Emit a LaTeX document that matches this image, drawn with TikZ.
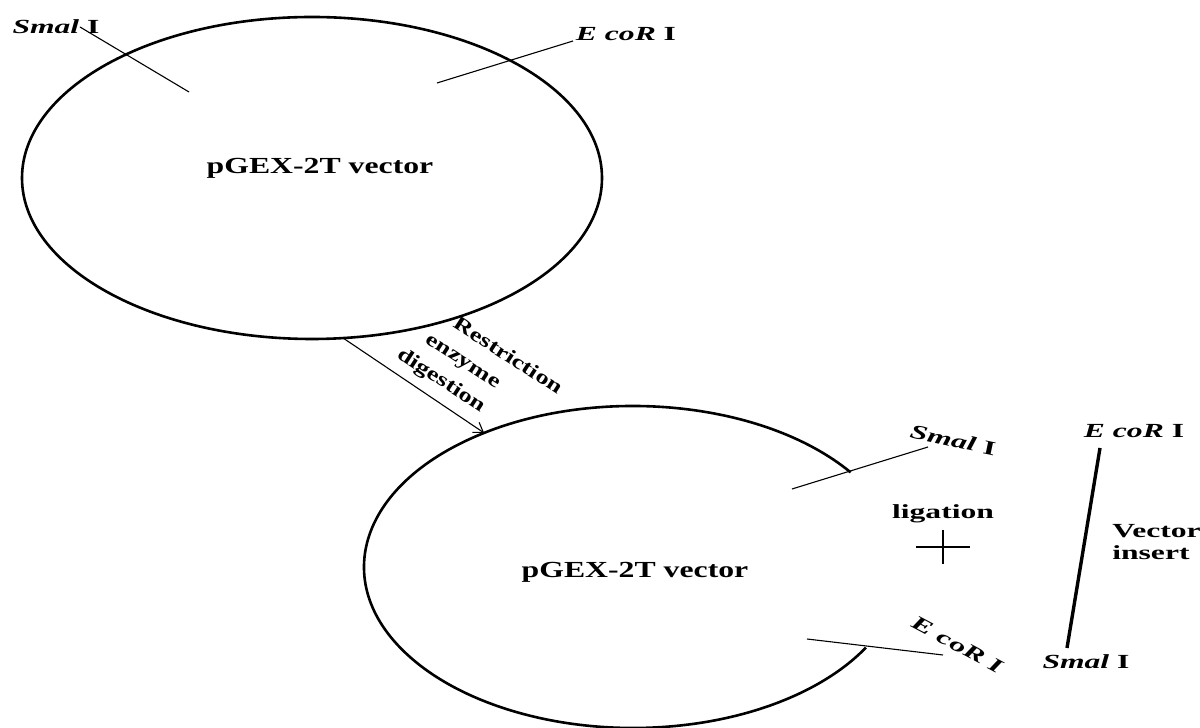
\documentclass[tikz,border=0pt]{standalone}
\usepackage{fontspec}
\setmainfont{Liberation Serif}
\usetikzlibrary{arrows.meta, shapes, positioning, calc}
\tikzset{
  plasmid/.style={ellipse, draw=black, line width=2.6pt, inner sep=0pt, outer sep=0pt},
  openplasmid/.style={ellipse, draw=none, inner sep=0pt, outer sep=0pt},
  plasmidarc/.style={line width=2.6pt},
  plasmidname/.style={font=\bfseries\fontsize{23}{26}\selectfont, xscale=1.38, transform shape, inner sep=0pt},
  enzymelabel/.style={font=\bfseries\fontsize{20}{22}\selectfont, xscale=1.58, transform shape, inner sep=0pt},
  steplabel/.style={font=\bfseries\fontsize{20}{28}\selectfont, rotate=-33, xscale=1.32, transform shape, inner sep=0pt, align=left},
  siteline/.style={line width=1.1pt},
  insertline/.style={line width=3.4pt},
  crossline/.style={line width=2.2pt},
  arrow/.style={line width=1.1pt, -{Straight Barb[length=9pt, width=12pt]}}
}

\begin{document}
\begin{tikzpicture}[x=1pt, y=1pt]
  \useasboundingbox (0,0) rectangle (1200,728);

  % Intact vector
  \node (vecA) [plasmid, minimum width=580pt, minimum height=322pt] at (312,550) {};
  \node (nameA) [plasmidname] at (320,559.5) {pGEX-2T vector};

  % Sites on the intact vector
  \coordinate (smaA1) at (80,701);
  \coordinate (smaA2) at (189,636);
  \coordinate (ecoA1) at (437,645);
  \coordinate (ecoA2) at (573,687);
  \draw [siteline] (smaA1) -- (smaA2);
  \draw [siteline] (ecoA1) -- (ecoA2);
  \node (smaAlab) [enzymelabel] at (56,701) {\textit{Smal} I};
  \node (ecoAlab) [enzymelabel] at (626,694) {\textit{E coR} I};

  % Opened vector
  \node (vecB) [openplasmid, minimum width=538pt, minimum height=322pt] at (633,161) {};
  \draw [plasmidarc] ($(vecB.center)+(36:269 and 161)$) arc[start angle=36, end angle=330, x radius=269, y radius=161];
  \node (nameB) [plasmidname] at (635,156) {pGEX-2T vector};

  % Digestion step
  \draw [arrow] (vecA.-79.5) -- (vecB.138);
  \node (digest) [steplabel] at (479.5,356) {\hspace*{23.5pt}Restriction\\\hspace*{12pt}enzyme\\digestion};

  % Cut ends of the opened vector
  \coordinate (smaB1) at (792,239);
  \coordinate (smaB2) at (928,281);
  \coordinate (ecoB1) at (807,89);
  \coordinate (ecoB2) at (943,73);
  \draw [siteline] (smaB1) -- (smaB2);
  \draw [siteline] (ecoB1) -- (ecoB2);
  \node (smaBlab) [rotate=-12, enzymelabel] at (953,288) {\textit{Smal} I};
  \node (ecoBlab) [rotate=-28, enzymelabel] at (958,83) {\textit{E coR I}};

  % Ligation
  \node (lig) [enzymelabel] at (943,214) {ligation};
  \coordinate (plus) at (943,181);
  \draw [crossline] ($(plus)+(-27,0)$) -- ($(plus)+(27,0)$);
  \draw [crossline] ($(plus)+(0,-17)$) -- ($(plus)+(0,17)$);

  % Insert
  \coordinate (insTop) at (1100,280);
  \coordinate (insBot) at (1067,80);
  \draw [insertline] (insTop) -- (insBot);
  \node (ecoClab) [enzymelabel] at (1134,297) {\textit{E coR} I};
  \node (smaClab) [enzymelabel] at (1086,66) {\textit{Smal} I};
  \node (insert) [enzymelabel, anchor=west, align=left] at (1112,186) {Vector\\insert};

\end{tikzpicture}
\end{document}
